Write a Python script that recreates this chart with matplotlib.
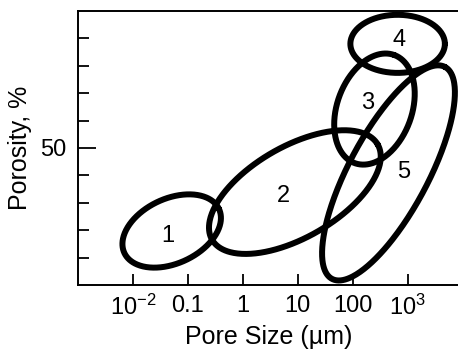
import numpy as np
import matplotlib
matplotlib.use("Agg")
import matplotlib.pyplot as plt
from matplotlib import font_manager

# Ellipse regions: centre (pore size in um, porosity in %), semi-axes in decades
# (1 decade of pore size drawn as long as 20 % porosity), tilt in degrees
labels = ["1", "2", "3", "4", "5"]
centre_size = [0.051, 8.9, 250.0, 660.0, 450.0]
centre_poros = [19.7, 33.9, 64.2, 88.0, 40.9]
semi_major = [0.95, 1.74, 1.05, 0.86, 2.19]
semi_minor = [0.59, 0.83, 0.68, 0.53, 0.72]
tilt_deg = [25, 30, 70, 0, 62]
label_size = [0.044, 5.6, 186.0, 690.0, 850.0]
label_poros = [17.9, 32.5, 66.4, 89.4, 41.2]

xtick_vals = [1e-2, 1e-1, 1, 10, 100, 1e3]
xtick_text = ["$10^{-2}$", "0.1", "1", "10", "100", "$10^3$"]
ytick_minor = [10, 20, 30, 40, 60, 70, 80, 90]

names = {f.name for f in font_manager.fontManager.ttflist}
fam = "Liberation Sans Narrow" if "Liberation Sans Narrow" in names else "Liberation Sans"
plt.rcParams["font.family"] = [fam, "DejaVu Sans"]
plt.rcParams["mathtext.fontset"] = "custom"
plt.rcParams["mathtext.rm"] = fam
plt.rcParams["mathtext.it"] = fam

fig = plt.figure(figsize=(4.58, 3.54), dpi=100)
ax = fig.add_axes([0.170, 0.195, 0.835, 0.774])
ax.set_xscale("log")

t = np.linspace(0, 2 * np.pi, 400)
for i in range(len(labels)):
    th = np.radians(tilt_deg[i])
    u = semi_major[i] * np.cos(t)
    v = semi_minor[i] * np.sin(t)
    lx = np.log10(centre_size[i]) + u * np.cos(th) - v * np.sin(th)
    ly = centre_poros[i] / 20.0 + u * np.sin(th) + v * np.cos(th)
    ax.plot(10 ** lx, ly * 20.0, color="black", lw=4.3, solid_capstyle="round")
    ax.text(label_size[i], label_poros[i], labels[i], fontsize=17,
            ha="center", va="center")

ax.set_xlim(1e-3, 10 ** 3.96)
ax.set_ylim(0, 100)

ax.set_xticks(xtick_vals)
ax.set_xticklabels(xtick_text)
ax.xaxis.set_minor_locator(matplotlib.ticker.NullLocator())
ax.set_yticks([50])
ax.set_yticks(ytick_minor, minor=True)
ax.tick_params(axis="x", which="major", direction="in", length=8, width=1.3,
               labelsize=17, pad=7)
ax.tick_params(axis="y", which="major", direction="in", length=13, width=1.3,
               labelsize=17, pad=8)
ax.tick_params(axis="y", which="minor", direction="in", length=8, width=1.3)

for side in ["left", "bottom", "top"]:
    ax.spines[side].set_linewidth(1.4)
ax.spines["right"].set_visible(False)

ax.set_xlabel("Pore Size (µm)", fontsize=18, labelpad=4)
ax.set_ylabel("Porosity, %", fontsize=18, labelpad=6)

fig.savefig("out.png", dpi=100)
